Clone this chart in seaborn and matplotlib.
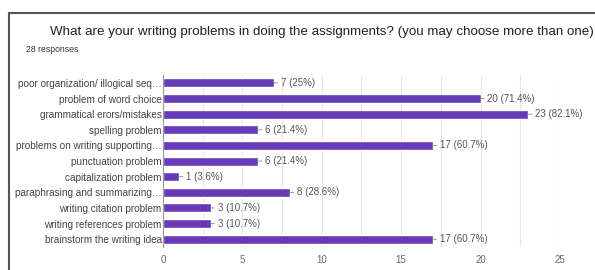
import matplotlib.pyplot as plt
import seaborn as sns
import pandas as pd
from matplotlib.lines import Line2D

# Survey data
problems = [
    'poor organization/ illogical seq…',
    'problem of word choice',
    'grammatical erors/mistakes',
    'spelling problem',
    'problems on writing supporting…',
    'punctuation problem',
    'capitalization problem',
    'paraphrasing and summarizing…',
    'writing citation problem',
    'writing references problem',
    'brainstorm the writing idea',
]
counts = [7, 20, 23, 6, 17, 6, 1, 8, 3, 3, 17]
percents = ['25%', '71.4%', '82.1%', '21.4%', '60.7%', '21.4%', '3.6%', '28.6%', '10.7%', '10.7%', '60.7%']
x_ticks = [0, 5, 10, 15, 20, 25]

sns.set_theme(style="white")
plt.rcParams['font.family'] = ['Liberation Sans', 'DejaVu Sans']

df = pd.DataFrame({'problem': problems, 'count': counts})

fig = plt.figure(figsize=(5.95, 2.70), dpi=100)
ax = fig.add_axes([0.274, 0.085, 0.667, 0.637])

sns.barplot(data=df, y='problem', x='count', orient='h', color='#673ab7',
            saturation=1, width=0.58, ax=ax)

ax.set_xlim(0, 25)
ax.set_ylim(len(problems) - 0.5, -0.5)
ax.set_xticks(x_ticks)
ax.set_xticks([2.5, 7.5, 12.5, 17.5, 22.5], minor=True)
ax.grid(axis='x', which='both', color='#e6e6e6', linewidth=0.8)
ax.set_axisbelow(True)
ax.set_xlabel('')
ax.set_ylabel('')
for s in ['top', 'right', 'bottom']:
    ax.spines[s].set_visible(False)
ax.spines['left'].set_color('#999999')
ax.spines['left'].set_linewidth(0.8)
ax.tick_params(axis='y', length=0, pad=1, labelsize=7.2, labelcolor='#444444')
ax.tick_params(axis='x', which='both', length=0, pad=6, labelsize=7, labelcolor='#666666')

# value labels with a short leader line
for i, (c, p) in enumerate(zip(counts, percents)):
    ax.annotate(f'{c} ({p})', xy=(c, i), xytext=(5, 0), textcoords='offset points',
                va='center', ha='left', fontsize=7, color='#555555',
                arrowprops=dict(arrowstyle='-', color='#888888', lw=0.6,
                                shrinkA=0, shrinkB=0))

fig.text(50 / 595, 1 - 32 / 270, 'What are your writing problems in doing the assignments? (you may choose more than one)',
         fontsize=9.6, color='#222222', va='center', ha='left')
fig.text(26 / 595, 1 - 50 / 270, '28 responses', fontsize=6.2, color='#333333', va='center', ha='left')

# card border
fig.add_artist(Line2D([8.5 / 595, 8.5 / 595], [0, 1 - 13 / 270], color='#555555', lw=1.5))
fig.add_artist(Line2D([8.5 / 595, 1], [1 - 13 / 270, 1 - 13 / 270], color='#555555', lw=1.5))

plt.savefig('out.png', dpi=100)
plt.close()
